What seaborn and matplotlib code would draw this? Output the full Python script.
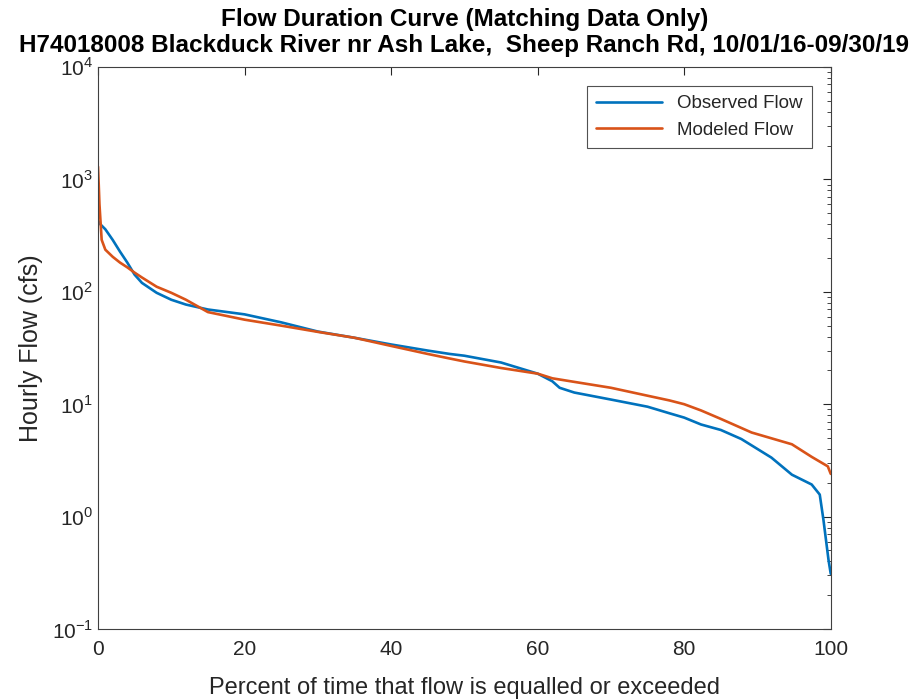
import numpy as np
import pandas as pd
import matplotlib
matplotlib.use("Agg")
import matplotlib.pyplot as plt
import seaborn as sns
from matplotlib.ticker import LogLocator, FixedLocator

obs_pct = [0, 0.3, 1, 2, 3, 4, 5, 6, 8, 10, 12, 15, 20, 25, 30, 35, 40, 45, 48, 50, 55, 60, 62, 63, 65, 70, 75, 78, 80, 82.3, 85, 87.8, 91.9, 94.7, 97.4, 98.5, 99, 99.7, 100]
obs_flow = [430, 400, 360, 290, 228, 182, 142, 120, 98, 85, 77, 69.6, 63, 53.5, 44.3, 39, 34, 30, 28, 27, 23.5, 18.7, 16, 14, 12.7, 11, 9.5, 8.3, 7.6, 6.6, 5.9, 4.9, 3.35, 2.36, 1.93, 1.57, 0.94, 0.41, 0.31]

mod_pct = [0, 0.1, 0.2, 0.5, 1, 2, 3, 4, 5, 6, 8, 10, 12, 15, 20, 25, 30, 35, 40, 45, 48, 50, 55, 60, 62, 65, 70, 75, 78, 80, 82.3, 85, 89.2, 94.7, 97.4, 99.6, 100]
mod_flow = [1300, 900, 600, 290, 237, 205, 182, 165, 148, 134, 111, 98, 85, 66, 56.5, 50, 44, 39, 33, 28, 25.5, 24, 21, 18.7, 17, 15.8, 14, 11.9, 10.8, 10, 8.8, 7.4, 5.6, 4.4, 3.4, 2.8, 2.4]

series_names = ["Observed Flow", "Modeled Flow"]
colors = ["#0072BD", "#D95319"]

df = pd.concat([
    pd.DataFrame({"pct": obs_pct, "flow": obs_flow, "series": series_names[0]}),
    pd.DataFrame({"pct": mod_pct, "flow": mod_flow, "series": series_names[1]}),
], ignore_index=True)

sns.set_style("white")
plt.rcParams['font.family'] = ['Liberation Sans', 'DejaVu Sans']
plt.rcParams['mathtext.fontset'] = 'custom'
plt.rcParams['mathtext.rm'] = 'Liberation Sans'

fig = plt.figure(figsize=(9.21, 7.0), dpi=100)
ax = fig.add_axes([0.1064, 0.1014, 0.7956, 0.8029])

sns.lineplot(data=df, x="pct", y="flow", hue="series", palette=colors,
             hue_order=series_names, linewidth=1.9, ax=ax, sort=False, estimator=None)

ax.set_yscale("log")
ax.set_xlim(0, 100)
ax.set_ylim(0.1, 1e4)
ax.set_xticks([0, 20, 40, 60, 80, 100])
ax.yaxis.set_major_locator(FixedLocator([0.1, 1, 10, 100, 1000, 10000]))
ax.yaxis.set_minor_locator(LogLocator(base=10, subs=np.arange(2, 10), numticks=20))
ax.set_yticklabels([r"$10^{-1}$", r"$10^{0}$", r"$10^{1}$", r"$10^{2}$", r"$10^{3}$", r"$10^{4}$"])

grey = "#262626"
for s in ax.spines.values():
    s.set_color("#404040")
    s.set_linewidth(0.8)
ax.tick_params(which="both", direction="in", top=True, right=True, colors=grey, labelsize=15)
ax.tick_params(which="major", length=6)
ax.tick_params(which="minor", length=3)
ax.tick_params(axis="x", which="minor", bottom=False, top=False)
ax.tick_params(axis="x", pad=8)

ax.set_xlabel("Percent of time that flow is equalled or exceeded", fontsize=17, color=grey, labelpad=13)
ax.set_ylabel("Hourly Flow (cfs)", fontsize=18, color=grey, labelpad=6)
ax.set_title("Flow Duration Curve (Matching Data Only)\nH74018008 Blackduck River nr Ash Lake,  Sheep Ranch Rd, 10/01/16-09/30/19",
             fontsize=17.5, fontweight="bold", color="black", pad=11, linespacing=1.15)

leg = ax.legend(loc="upper right", fontsize=13.5, frameon=True, fancybox=False,
                edgecolor="#262626", handlelength=3.5, borderaxespad=1.0, borderpad=0.5)
leg.get_frame().set_linewidth(0.8)

fig.savefig("out.png", dpi=100)
